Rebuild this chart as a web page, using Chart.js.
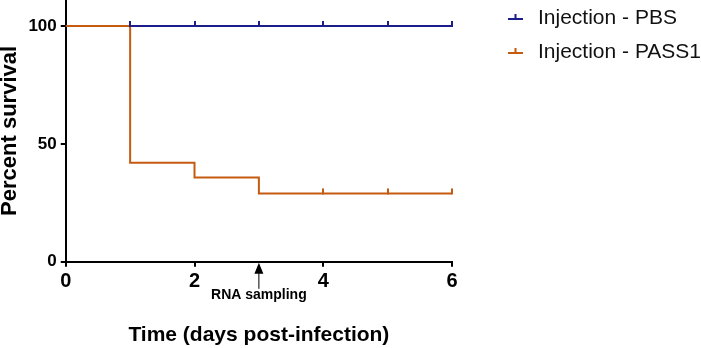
<!DOCTYPE html>
<html>
<head>
<meta charset="utf-8">
<title>Survival</title>
<script src="https://cdn.jsdelivr.net/npm/chart.js"></script>
<style>
  html, body { margin: 0; padding: 0; background: #fff; }
  #wrap { width: 701px; height: 348px; }
</style>
</head>
<body>
<div id="wrap"><canvas id="survivalChart" width="701" height="348"></canvas></div>
<script>
// Kaplan-Meier steps (x = day, y = percent survival)
const pbsDays = [0, 6];
const pbsSurvival = [100, 100];
const pbsCensored = [1, 2, 3, 4, 5, 6];

const passDays = [0, 1, 2, 3, 6];
const passSurvival = [100, 42, 35.7, 29, 29];
const passCensored = [4, 5, 6];

const seriesNames = ['Injection - PBS', 'Injection - PASS1'];
const xTicks = [0, 2, 4, 6];
const yTicks = [0, 50, 100];
const samplingDay = 3;
const samplingLabel = 'RNA sampling';

const BLUE = '#1c1c8a';
const ORANGE = '#c55a11';
const FONT = '"Liberation Sans", Arial, sans-serif';

// small "up tick" used to mark censored subjects
function censorMark(color) {
  const c = document.createElement('canvas');
  c.width = 2; c.height = 12;
  const g = c.getContext('2d');
  g.fillStyle = color;
  g.fillRect(0, 1, 2, 6);
  return c;
}

function toPoints(xs, ys) {
  return xs.map((x, i) => ({ x: x, y: ys[i] }));
}

// censor points sit on the curve at the last step value
function censorPoints(days, xs, ys) {
  return days.map(d => {
    let v = ys[0];
    xs.forEach((x, i) => { if (x <= d) v = ys[i]; });
    return { x: d, y: v };
  });
}

// arrow + label under the x axis
const samplingArrow = {
  id: 'samplingArrow',
  afterDraw(chart) {
    const ctx = chart.ctx;
    const xs = chart.scales.x;
    const px = xs.getPixelForValue(samplingDay);
    const top = xs.top + 1;
    ctx.save();
    ctx.strokeStyle = '#000';
    ctx.fillStyle = '#000';
    ctx.lineWidth = 1;
    ctx.beginPath();
    ctx.moveTo(px, top + 10);
    ctx.lineTo(px, top + 26);
    ctx.stroke();
    ctx.beginPath();
    ctx.moveTo(px, top);
    ctx.lineTo(px - 4.5, top + 11);
    ctx.lineTo(px + 4.5, top + 11);
    ctx.closePath();
    ctx.fill();
    ctx.font = 'bold 14px ' + FONT;
    ctx.textAlign = 'center';
    ctx.textBaseline = 'middle';
    ctx.fillText(samplingLabel, px, top + 32);
    ctx.restore();
  }
};

// legend on the right: line with a censor tick, then the series name
const sideLegend = {
  id: 'sideLegend',
  afterDraw(chart) {
    const ctx = chart.ctx;
    const rows = [18, 52];
    ctx.save();
    ctx.font = '21px ' + FONT;
    ctx.textAlign = 'left';
    ctx.textBaseline = 'middle';
    chart.data.datasets.slice(0, 2).forEach((ds, i) => {
      const y = rows[i];
      ctx.fillStyle = ds.borderColor;
      ctx.fillRect(508, y, 15, 2);
      ctx.fillRect(514.5, y - 4, 2, 5);
      ctx.fillStyle = '#111';
      ctx.fillText(ds.label, 538, y);
    });
    ctx.restore();
  }
};

new Chart(document.getElementById('survivalChart'), {
  type: 'scatter',
  data: {
    datasets: [
      {
        label: seriesNames[0],
        data: toPoints(pbsDays, pbsSurvival),
        showLine: true,
        stepped: true,
        borderColor: BLUE,
        borderWidth: 2,
        pointRadius: 0,
        order: 2
      },
      {
        label: seriesNames[1],
        data: toPoints(passDays, passSurvival),
        showLine: true,
        stepped: true,
        borderColor: ORANGE,
        borderWidth: 2,
        pointRadius: 0,
        order: 1
      },
      {
        label: 'censor-pbs',
        data: censorPoints(pbsCensored, pbsDays, pbsSurvival),
        pointStyle: censorMark(BLUE),
        pointRadius: 3,
        showLine: false
      },
      {
        label: 'censor-pass',
        data: censorPoints(passCensored, passDays, passSurvival),
        pointStyle: censorMark(ORANGE),
        pointRadius: 3,
        showLine: false
      }
    ]
  },
  plugins: [samplingArrow, sideLegend],
  options: {
    responsive: false,
    animation: false,
    clip: false,
    layout: { autoPadding: false, padding: { left: -3, right: 249, top: 0, bottom: 0 } },
    plugins: {
      tooltip: { enabled: false },
      legend: { display: false }
    },
    scales: {
      x: {
        type: 'linear',
        min: 0,
        max: 6,
        afterBuildTicks: s => { s.ticks = xTicks.map(v => ({ value: v })); },
        border: { display: true, color: '#000', width: 2 },
        grid: { drawOnChartArea: false, drawTicks: true, tickLength: 5, color: '#000', lineWidth: 2 },
        ticks: { color: '#000', font: { family: FONT, size: 20, weight: 'bold' }, padding: 3 },
        title: {
          display: true,
          text: 'Time (days post-infection)',
          color: '#000',
          font: { family: FONT, size: 21, weight: 'bold' },
          padding: { top: 26, bottom: 0 }
        }
      },
      y: {
        type: 'linear',
        min: 0,
        max: 111,
        afterBuildTicks: s => { s.ticks = yTicks.map(v => ({ value: v })); },
        afterFit: s => { s.paddingTop = 0; s.paddingBottom = 0; },
        border: { display: true, color: '#000', width: 2 },
        grid: { drawOnChartArea: false, drawTicks: true, tickLength: 5, color: '#000', lineWidth: 2 },
        ticks: { color: '#000', font: { family: FONT, size: 17, weight: 'bold' }, padding: 4 },
        title: {
          display: true,
          text: 'Percent survival',
          color: '#000',
          font: { family: FONT, size: 22, weight: 'bold' },
          padding: { top: 0, bottom: 1 }
        }
      }
    }
  }
});
</script>
</body>
</html>
